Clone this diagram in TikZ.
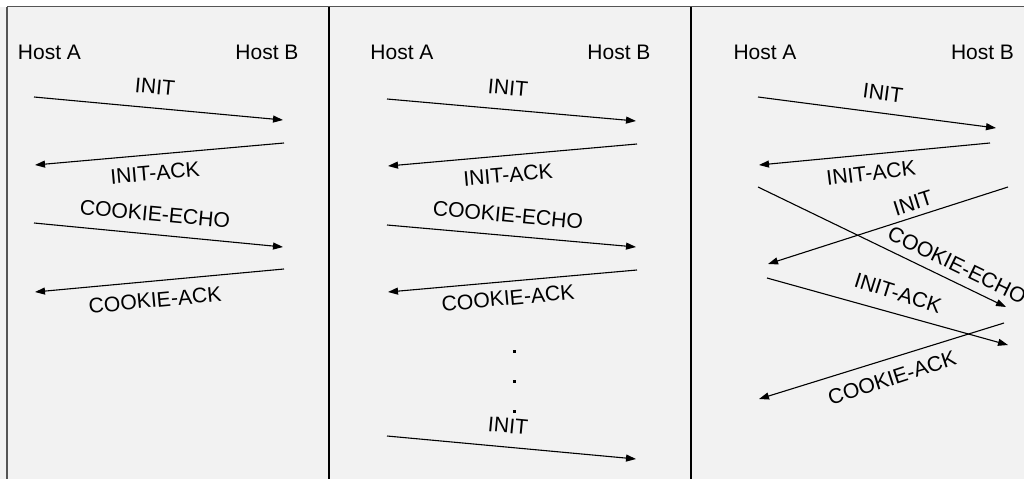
\documentclass[tikz,border=0pt]{standalone}
\usepackage{fontspec}
\setmainfont{Liberation Sans}
\usepackage{tikz}
\usetikzlibrary{arrows.meta}
\definecolor{panelgray}{HTML}{F2F2F2}
\definecolor{framegray}{HTML}{555555}

\begin{document}
\begin{tikzpicture}[x=1pt,y=-1pt,
    msg/.style={line width=1.1pt, -{Triangle[length=10pt,width=7pt]}},
    host/.style={font=\fontsize{21}{24}\selectfont, inner sep=0pt},
    lbl/.style={font=\fontsize{21.2}{24}\selectfont, inner sep=0pt}]
        \useasboundingbox (0,0) rectangle (1024,479);
        \fill[white] (0,0) rectangle (1024,6.5);
        \fill[panelgray] (0,6.5) rectangle (1024,479);
        %%Frame
        \draw[framegray, line width=1.5pt] (7,6.5) to (1024,6.5);
        \draw[framegray, line width=2pt] (7,6.5) to (7,479);
        \draw[black, line width=2pt] (328.5,6.5) to (328.5,479);
        \draw[black, line width=2pt] (690.5,6.5) to (690.5,479);
        %%Panel_1
        \node[host] (hA1) at (49.5,52.5) {Host A};
        \node[host] (hB1) at (267,52.5) {Host B};
        \coordinate (p1a) at (34,97);   \coordinate (p1b) at (283,120);
        \coordinate (p1c) at (284,143); \coordinate (p1d) at (35,165);
        \coordinate (p1e) at (34,223);  \coordinate (p1f) at (283,247);
        \coordinate (p1g) at (284,269); \coordinate (p1h) at (35,292);
        \draw[msg] (p1a) to (p1b);
        \draw[msg] (p1c) to (p1d);
        \draw[msg] (p1e) to (p1f);
        \draw[msg] (p1g) to (p1h);
        \node[lbl, rotate=-5.3] (init1) at (155,87) {INIT};
        \node[lbl, rotate=5] (ack1) at (155,173) {INIT-ACK};
        \node[lbl, rotate=-5.3] (echo1) at (155,214) {COOKIE-ECHO};
        \node[lbl, rotate=5.3] (cack1) at (155,300) {COOKIE-ACK};
        %%Panel_2
        \node[host] (hA2) at (402,52.5) {Host A};
        \node[host] (hB2) at (619,52.5) {Host B};
        \coordinate (p2a) at (387,99);  \coordinate (p2b) at (636,121);
        \coordinate (p2c) at (637,144); \coordinate (p2d) at (388,166);
        \coordinate (p2e) at (387,225); \coordinate (p2f) at (636,247);
        \coordinate (p2g) at (637,270); \coordinate (p2h) at (388,292);
        \coordinate (p2i) at (387,436); \coordinate (p2j) at (636,459);
        \draw[msg] (p2a) to (p2b);
        \draw[msg] (p2c) to (p2d);
        \draw[msg] (p2e) to (p2f);
        \draw[msg] (p2g) to (p2h);
        \draw[msg] (p2i) to (p2j);
        \node[lbl, rotate=-5.3] (init2) at (508,88) {INIT};
        \node[lbl, rotate=5] (ack2) at (508,175) {INIT-ACK};
        \node[lbl, rotate=-5.3] (echo2) at (508,215) {COOKIE-ECHO};
        \node[lbl, rotate=5.3] (cack2) at (508,298) {COOKIE-ACK};
        \node[lbl, rotate=-5.3] (init2b) at (508,426) {INIT};
        \fill (512.5,349.5) rectangle (515.5,352.5);
        \fill (512.5,379.5) rectangle (515.5,382.5);
        \fill (512.5,409.5) rectangle (515.5,412.5);
        %%Panel_3
        \node[host] (hA3) at (765,52.5) {Host A};
        \node[host] (hB3) at (982.5,52.5) {Host B};
        \coordinate (p3a) at (758,97);   \coordinate (p3b) at (996,128);
        \coordinate (p3c) at (990,143);  \coordinate (p3d) at (759,165);
        \coordinate (p3e) at (758,187);  \coordinate (p3f) at (1006,307);
        \coordinate (p3g) at (1008,187); \coordinate (p3h) at (768,264);
        \coordinate (p3i) at (767,278);  \coordinate (p3j) at (1008,345);
        \coordinate (p3k) at (1004,323); \coordinate (p3l) at (759,399);
        \draw[msg] (p3a) to (p3b);
        \draw[msg] (p3c) to (p3d);
        \draw[msg] (p3e) to (p3f);
        \draw[msg] (p3g) to (p3h);
        \draw[msg] (p3i) to (p3j);
        \draw[msg] (p3k) to (p3l);
        \node[lbl, rotate=-7.4] (init3) at (883,93) {INIT};
        \node[lbl, rotate=7] (ack3) at (871,173) {INIT-ACK};
        \node[lbl, rotate=17.6] (init3b) at (913,203) {INIT};
        \node[lbl, rotate=-26] (echo3) at (957,265) {COOKIE-ECHO};
        \node[lbl, rotate=-17.5] (ack3b) at (898,293) {INIT-ACK};
        \node[lbl, rotate=18] (cack3) at (892,378) {COOKIE-ACK};
\end{tikzpicture}
\end{document}
